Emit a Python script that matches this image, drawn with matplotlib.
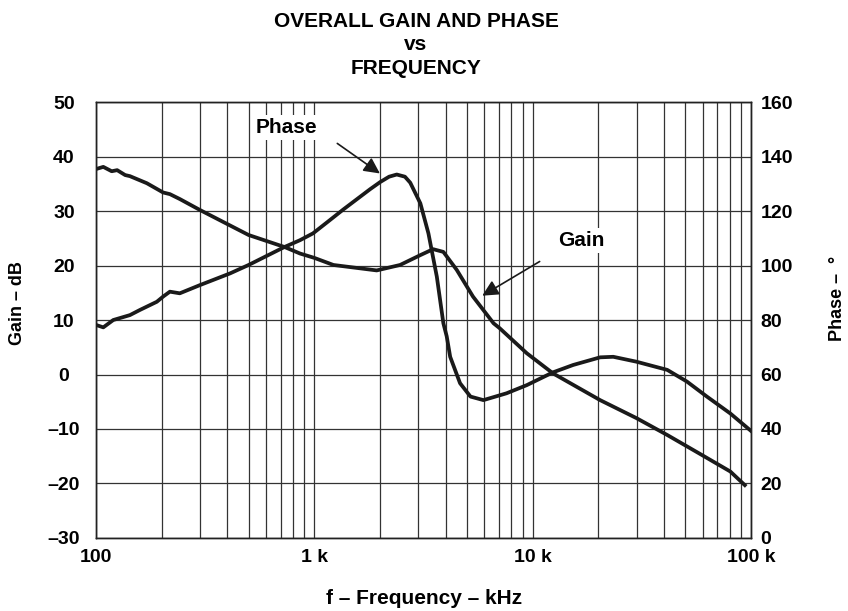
import matplotlib
matplotlib.use('Agg')
import matplotlib.pyplot as plt
from matplotlib.ticker import FixedLocator, LogLocator, NullFormatter

plt.rcParams['font.family'] = ['Liberation Sans', 'DejaVu Sans']
plt.rcParams['font.weight'] = 'bold'

# gain curve (Hz, dB)
gain_f = [100, 108, 118, 125, 136, 143, 171, 203, 218, 242, 299, 500, 730, 860, 1000, 1223,
          1930, 2470, 3056, 3500, 3900, 4490, 5330, 6620, 7060, 9400, 12400, 20370, 29870,
          41340, 58000, 80400, 93700]
gain_db = [37.7, 38.1, 37.3, 37.5, 36.6, 36.4, 35.1, 33.4, 33.1, 32.2, 30.2, 25.6, 23.4, 22.2,
           21.4, 20.1, 19.1, 20.1, 21.9, 23.0, 22.5, 19.2, 14.3, 9.4, 8.5, 3.9, 0.2, -4.7,
           -8.0, -11.1, -14.5, -17.8, -20.3]

# phase curve (Hz, degrees)
phase_f = [100, 108, 120, 143, 159, 190, 203, 218, 242, 299, 411, 500, 730, 860, 986, 1150,
           1359, 1800, 2000, 2200, 2385, 2600, 2750, 3060, 3331, 3640, 3900, 4040, 4190, 4650,
           5190, 5950, 7590, 9400, 12400, 15330, 20370, 23400, 29870, 41340, 50900, 62800,
           80400, 100000]
phase_deg = [78.2, 77.3, 80.0, 81.8, 83.7, 86.7, 88.6, 90.4, 89.8, 92.8, 97.1, 100.2, 106.8,
             109.3, 111.8, 116.0, 120.6, 128.0, 130.6, 132.6, 133.4, 132.6, 130.4, 122.8, 111.8,
             95.9, 78.8, 74.0, 66.5, 56.8, 51.9, 50.6, 53.1, 56.1, 60.8, 63.5, 66.3, 66.5,
             64.7, 61.7, 57.4, 51.9, 45.7, 39.3]

x_ticks = [100, 1000, 10000, 100000]
x_labels = ['100', '1 k', '10 k', '100 k']
gain_ticks = [-30, -20, -10, 0, 10, 20, 30, 40, 50]
gain_labels = ['\u201330', '\u201320', '\u201310', '0', '10', '20', '30', '40', '50']
phase_ticks = [0, 20, 40, 60, 80, 100, 120, 140, 160]

fig = plt.figure(figsize=(8.48, 6.11), dpi=100)
ax = fig.add_axes([0.1132, 0.1195, 0.7724, 0.7135])
ax2 = ax.twinx()

ax.set_xscale('log')
ax.set_xlim(100, 100000)
ax.set_ylim(-30, 50)
ax2.set_ylim(0, 160)

ax.xaxis.set_major_locator(FixedLocator(x_ticks))
ax.set_xticklabels(x_labels)
ax.xaxis.set_minor_locator(LogLocator(base=10, subs=range(2, 10)))
ax.xaxis.set_minor_formatter(NullFormatter())
ax.set_yticks(gain_ticks)
ax.set_yticklabels(gain_labels, ha='center')
ax2.set_yticks(phase_ticks)

ax.grid(True, which='both', axis='x', color='#333333', linewidth=0.9)
ax.grid(True, which='major', axis='y', color='#333333', linewidth=0.9)

for a in (ax, ax2):
    a.tick_params(which='both', length=0, labelsize=14)
    for s in a.spines.values():
        s.set_color('#222222')
        s.set_linewidth(1.0)
ax.tick_params(axis='x', pad=8)
ax.tick_params(axis='y', pad=23)
ax2.tick_params(axis='y', pad=7)

ax.plot(gain_f, gain_db, color='#1a1a1a', linewidth=2.7, zorder=3)
ax2.plot(phase_f, phase_deg, color='#1a1a1a', linewidth=2.7, zorder=3)

ax.annotate('', xy=(2045, 36.6), xytext=(1244, 42.7),
            arrowprops=dict(arrowstyle='-|>', color='#1a1a1a', lw=1.2, mutation_scale=24), zorder=4)
ax.text(742, 45.3, 'Phase', ha='center', va='center', fontsize=15, fontweight='bold',
        bbox=dict(facecolor='white', edgecolor='none', pad=2), zorder=4)
ax.annotate('', xy=(5730, 14.2), xytext=(11040, 21.0),
            arrowprops=dict(arrowstyle='-|>', color='#1a1a1a', lw=1.2, mutation_scale=24), zorder=4)
ax.text(16700, 24.6, 'Gain', ha='center', va='center', fontsize=15, fontweight='bold',
        bbox=dict(facecolor='white', edgecolor='none', pad=2), zorder=4)

fig.text(18 / 848, 1 - 303 / 611, 'Gain \u2013 dB', rotation=90, ha='center', va='center',
         fontsize=13, fontweight='bold')
fig.text(838 / 848, 1 - 298 / 611, 'Phase \u2013  \u00b0', rotation=90, ha='center', va='center',
         fontsize=13, fontweight='bold')
fig.text(0.5, 1 - 598 / 611, 'f \u2013 Frequency \u2013 kHz', ha='center', va='center',
         fontsize=15, fontweight='bold')

fig.text(416 / 848, 1 - 27 / 611, 'OVERALL GAIN AND PHASE', ha='center', va='baseline', fontsize=15, fontweight='bold')
fig.text(416 / 848, 1 - 50 / 611, 'vs', ha='center', va='baseline', fontsize=15, fontweight='bold')
fig.text(416 / 848, 1 - 74 / 611, 'FREQUENCY', ha='center', va='baseline', fontsize=15, fontweight='bold')

fig.savefig('out.png', dpi=100)
